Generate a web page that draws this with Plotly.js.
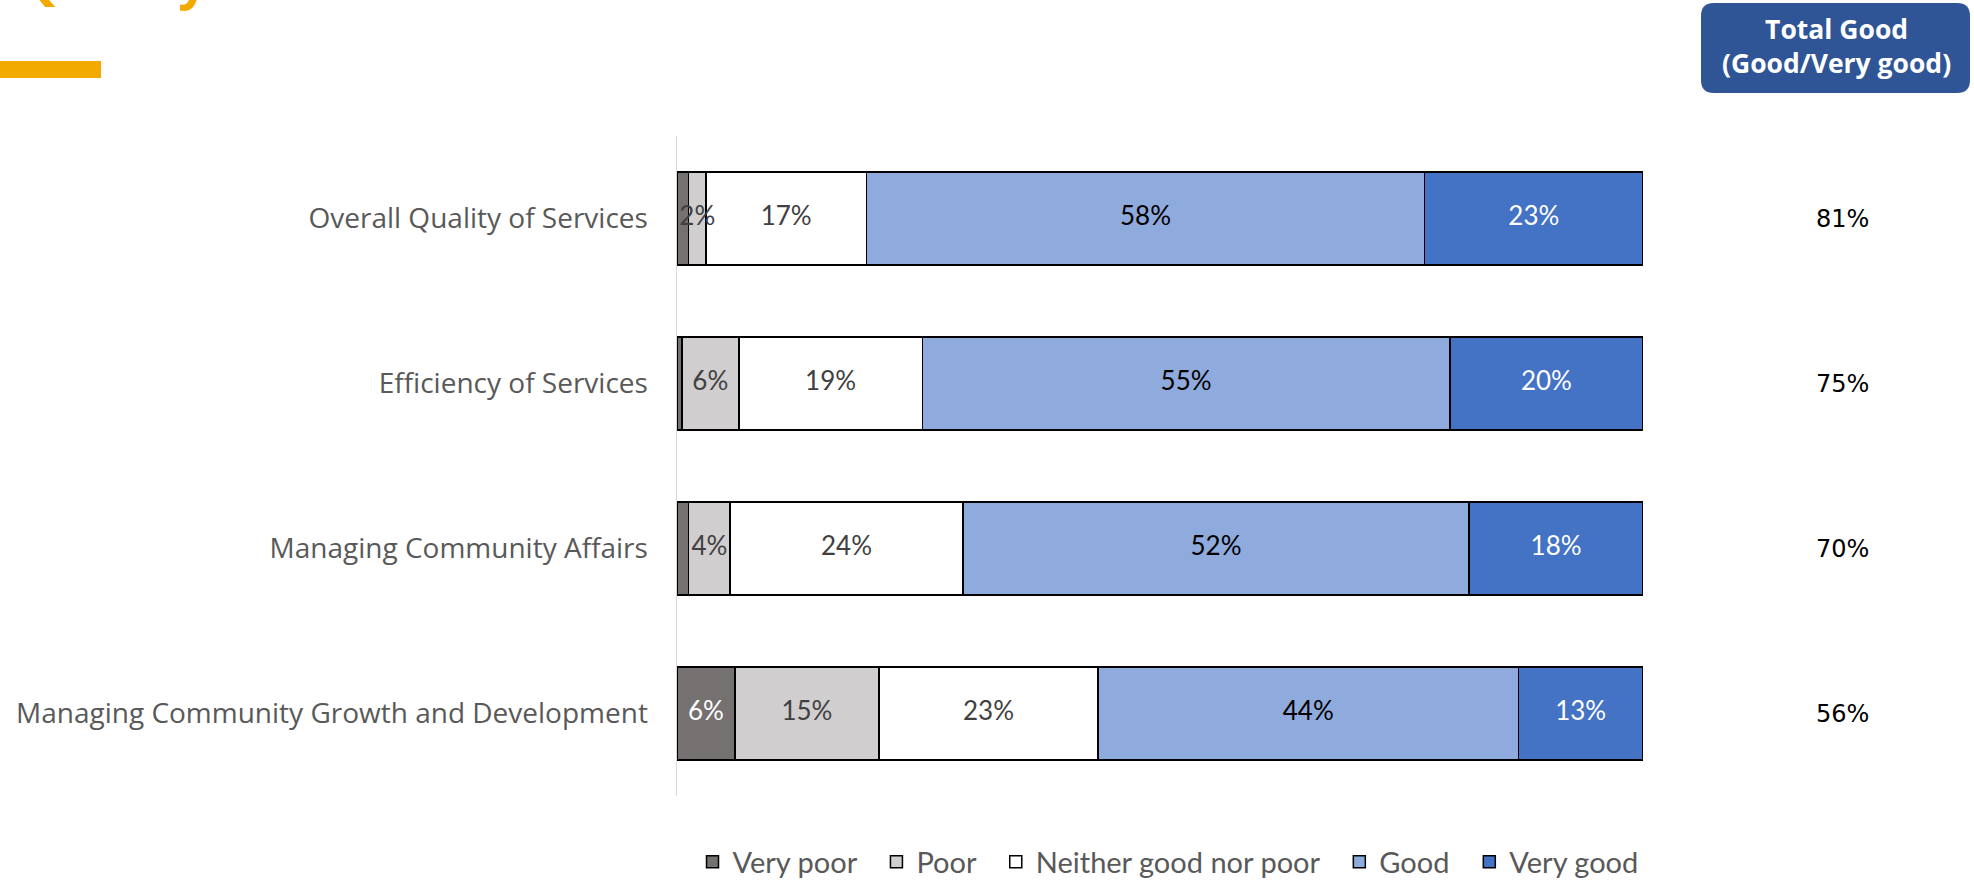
<!DOCTYPE html>
<html>
<head>
<meta charset="utf-8">
<script src="https://cdn.plot.ly/plotly-3.0.1.min.js"></script>
<style>
html, body { margin: 0; padding: 0; background: #ffffff; }
#chart { width: 1974px; height: 880px; }
</style>
</head>
<body>
<div id="chart"></div>
<script>
// ---- data ----
const categories = [
  "Overall Quality of Services",
  "Efficiency of Services",
  "Managing Community Affairs",
  "Managing Community Growth and Development"
];
const seriesNames = ["Very poor", "Poor", "Neither good nor poor", "Good", "Very good"];
const veryPoor = [1.2, 0.5, 1.2, 6.0];
const poor     = [1.8, 5.9, 4.3, 14.9];
const neither  = [16.6, 19.0, 24.1, 22.7];
const good     = [57.8, 54.6, 52.4, 43.5];
const veryGood = [22.6, 20.0, 18.0, 12.9];
const totalGood = ["81%", "75%", "70%", "56%"];
const headerText = "Total Good<br>(Good/Very good)";
const pageTitle = "Quality";

// ---- layout geometry (pixels) ----
const W = 1974, H = 880;
const PL = 677, PR = 1643, PT = 136, PB = 796;
const px = x => (x - PL) / (PR - PL);
const py = y => (PB - y) / (PB - PT);

const seriesValues = [veryPoor, poor, neither, good, veryGood];
const fillColors = ["#767171", "#D0CECE", "#FFFFFF", "#8FAADC", "#4472C4"];
const labelColors = ["#FFFFFF", "#404040", "#404040", "#000000", "#FFFFFF"];
const legendPad = "\u00A0\u00A0";

const barTraces = seriesValues.map((vals, i) => ({
  type: "bar",
  orientation: "h",
  name: seriesNames[i] + (i < seriesNames.length - 1 ? legendPad : ""),
  y: categories,
  x: vals,
  marker: { color: fillColors[i], line: { color: "#000000", width: 1.5 } },
  hoverinfo: "skip"
}));

// data labels drawn on top of all bars (so a narrow segment's label can overflow)
const labelTraces = seriesValues.map((vals, i) => ({
  type: "scatter",
  mode: "text",
  showlegend: false,
  y: categories,
  x: vals.map((v, k) => {
    let base = 0;
    for (let j = 0; j < i; j++) base += seriesValues[j][k];
    return base + v / 2;
  }),
  text: vals.map(v => (v >= 1.5 ? Math.round(v) + "%" : "")),
  textposition: "middle center",
  textfont: { family: "Lato, 'Open Sans', sans-serif", size: 26, color: labelColors[i] },
  hoverinfo: "skip",
  cliponaxis: false
}));

// rounded header box
const bx0 = px(1701), bx1 = px(1970), by1 = py(3), by0 = py(93);
const rx = 13 / (PR - PL), ry = 13 / (PB - PT);
const boxPath =
  `M ${bx0 + rx},${by1} L ${bx1 - rx},${by1} Q ${bx1},${by1} ${bx1},${by1 - ry} ` +
  `L ${bx1},${by0 + ry} Q ${bx1},${by0} ${bx1 - rx},${by0} ` +
  `L ${bx0 + rx},${by0} Q ${bx0},${by0} ${bx0},${by0 + ry} ` +
  `L ${bx0},${by1 - ry} Q ${bx0},${by1} ${bx0 + rx},${by1} Z`;

const annotations = [
  {
    xref: "paper", yref: "paper", x: px(1836), y: py(46),
    xanchor: "center", yanchor: "middle", showarrow: false,
    text: "<b>" + headerText.split("<br>").join("</b><br><b>") + "</b>",
    font: { family: "'Open Sans', sans-serif", size: 26.5, color: "#FFFFFF" }
  },
  {
    xref: "paper", yref: "paper", x: px(210), y: py(15),
    xanchor: "right", yanchor: "bottom", showarrow: false,
    text: "<b>" + pageTitle + "</b>",
    font: { family: "'Open Sans', sans-serif", size: 52, color: "#F2A900" }
  }
].concat(totalGood.map((t, i) => ({
  xref: "paper", yref: "y", x: px(1842), y: categories[i],
  xanchor: "center", yanchor: "middle", showarrow: false,
  text: t,
  font: { family: "'DejaVu Sans', sans-serif", size: 24, color: "#000000" }
})));

const layout = {
  width: W, height: H,
  margin: { l: PL, r: W - PR, t: PT, b: H - PB, pad: 0, autoexpand: false },
  paper_bgcolor: "#FFFFFF",
  plot_bgcolor: "#FFFFFF",
  barmode: "stack",
  bargap: 0.435,
  showlegend: true,
  legend: {
    orientation: "h", x: px(1168), xanchor: "center", y: py(862), yanchor: "middle",
    traceorder: "normal",
    font: { family: "Lato, 'Open Sans', sans-serif", size: 29, color: "#595959" }
  },
  xaxis: { range: [0, 100], visible: false, fixedrange: true, showgrid: false, zeroline: false },
  yaxis: {
    type: "category",
    categoryorder: "array",
    categoryarray: categories,
    autorange: "reversed",
    showline: true, linecolor: "#D9D9D9", linewidth: 1.5,
    ticks: "outside", ticklen: 22, tickcolor: "rgba(0,0,0,0)",
    tickfont: { family: "'Open Sans', sans-serif", size: 28, color: "#595959" },
    showgrid: false, zeroline: false, fixedrange: true
  },
  shapes: [
    { type: "rect", xref: "paper", yref: "paper", x0: px(0), x1: px(101), y0: py(78), y1: py(61),
      fillcolor: "#F2A900", line: { width: 0 } },
    { type: "path", xref: "paper", yref: "paper", path: boxPath,
      fillcolor: "#2F5597", line: { width: 0 } }
  ],
  annotations: annotations
};

Plotly.newPlot("chart", barTraces.concat(labelTraces), layout, { displayModeBar: false, staticPlot: true });
</script>
</body>
</html>
